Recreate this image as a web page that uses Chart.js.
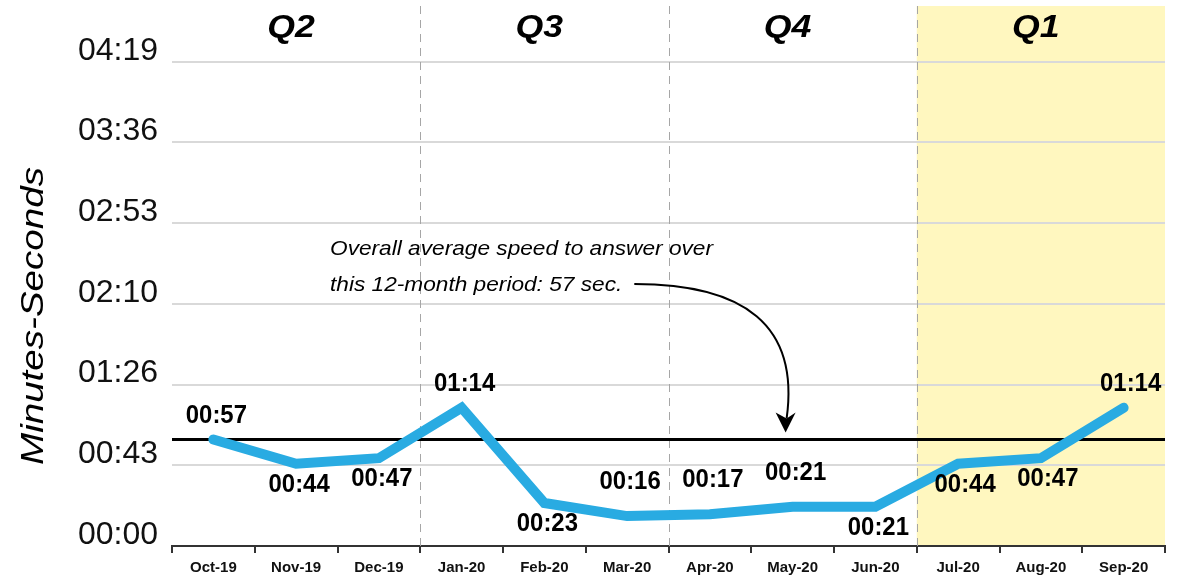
<!DOCTYPE html>
<html>
<head>
<meta charset="utf-8">
<script src="https://cdn.jsdelivr.net/npm/chart.js@4.4.1/dist/chart.umd.min.js"></script>
<style>
html, body { margin: 0; padding: 0; background: #fff; }
#canva1 { display: block; }
</style>
</head>
<body>
<canvas id="canva1" width="1185" height="577"></canvas>
<script>
// dados (segundos)
var meses = ["Oct-19", "Nov-19", "Dec-19", "Jan-20", "Feb-20", "Mar-20", "Apr-20", "May-20", "Jun-20", "Jul-20", "Aug-20", "Sep-20"]
var segundos = [57, 44, 47, 74, 23, 16, 17, 21, 21, 44, 47, 74]
var rotulosPontos = ["00:57", "00:44", "00:47", "01:14", "00:23", "00:16", "00:17", "00:21", "00:21", "00:44", "00:47", "01:14"]
var ladoRotulo = ["cima", "baixo", "baixo", "cima", "baixo", "cima", "cima", "cima", "baixo", "baixo", "baixo", "cima"]
var ticksY = [0, 43.2, 86.4, 129.6, 172.8, 216, 259.2]
var rotulosY = ["00:00", "00:43", "01:26", "02:10", "02:53", "03:36", "04:19"]
var trimestres = ["Q2", "Q3", "Q4", "Q1"]
var mediaGeral = 57
var textoNota = ["Overall average speed to answer over", "this 12-month period: 57 sec."]

var azul = "#29abe2"
var amarelo = "#fff7bf"
var fonte = "'Liberation Sans', Arial, sans-serif"

function meioEntre(x, i) {
    return (x.getPixelForValue(i) + x.getPixelForValue(i + 1)) / 2
}

// escreve o texto esticado na horizontal (o original parece esticado)
function textoEsticado(ctx, texto, x, y, fator) {
    ctx.save()
    ctx.translate(x, y)
    ctx.scale(fator, 1)
    ctx.fillText(texto, 0, 0)
    ctx.restore()
}

var pluginFundo = {
    id: "fundo",
    beforeDraw: function(chart) {
        // fundo amarelo do Q1
        var ctx = chart.ctx
        var area = chart.chartArea
        var x = chart.scales.x
        var inicio = meioEntre(x, 8)
        ctx.save()
        ctx.fillStyle = amarelo
        ctx.fillRect(inicio, area.top, area.right - inicio, area.bottom - area.top)
        ctx.restore()
    },
    beforeDatasetsDraw: function(chart) {
        var ctx = chart.ctx
        var area = chart.chartArea
        var x = chart.scales.x
        var y = chart.scales.y
        ctx.save()
        // linhas tracejadas entre trimestres
        ctx.strokeStyle = "#a6a6a6"
        ctx.lineWidth = 1
        ctx.setLineDash([8, 6])
        for (var q = 1; q < trimestres.length; q++) {
            var xq = Math.round(meioEntre(x, q * 3 - 1)) + 0.5
            ctx.beginPath()
            ctx.moveTo(xq, area.top)
            ctx.lineTo(xq, area.bottom)
            ctx.stroke()
        }
        ctx.setLineDash([])
        // linha da media
        var ym = y.getPixelForValue(mediaGeral)
        ctx.strokeStyle = "#000"
        ctx.lineWidth = 3
        ctx.beginPath()
        ctx.moveTo(area.left, ym)
        ctx.lineTo(area.right, ym)
        ctx.stroke()
        ctx.restore()
    },
    afterDatasetsDraw: function(chart) {
        var ctx = chart.ctx
        var area = chart.chartArea
        var x = chart.scales.x
        var y = chart.scales.y
        ctx.save()
        ctx.fillStyle = "#000"
        ctx.textAlign = "center"
        ctx.textBaseline = "middle"

        // nomes dos trimestres
        ctx.font = "italic bold 31px " + fonte
        for (var q = 0; q < trimestres.length; q++) {
            var xc = x.getPixelForValue(q * 3 + 1) - 5
            textoEsticado(ctx, trimestres[q], xc, area.top + 22, 1.15)
        }

        // rotulos dos pontos
        ctx.font = "bold 26px " + fonte
        for (var i = 0; i < segundos.length; i++) {
            var px = x.getPixelForValue(i)
            var py = y.getPixelForValue(segundos[i])
            var dy = ladoRotulo[i] == "cima" ? -24 : 21
            if (ladoRotulo[i] == "cima" && segundos[i] < 30) dy = -34
            var dx = i >= 9 ? 7 : 3
            textoEsticado(ctx, rotulosPontos[i], px + dx, py + dy, 0.92)
        }

        // titulo do eixo y
        ctx.save()
        ctx.translate(34, 316)
        ctx.rotate(-Math.PI / 2)
        ctx.font = "italic 31px " + fonte
        var kTitulo = 298 / ctx.measureText("Minutes-Seconds").width
        textoEsticado(ctx, "Minutes-Seconds", 0, 0, kTitulo)
        ctx.restore()

        // nota com a seta
        ctx.font = "italic 21px " + fonte
        ctx.textAlign = "left"
        ctx.textBaseline = "alphabetic"
        var kNota = 383 / ctx.measureText(textoNota[0]).width
        textoEsticado(ctx, textoNota[0], 330, 255, kNota)
        textoEsticado(ctx, textoNota[1], 330, 291, kNota)
        var fimTexto = 330 + ctx.measureText(textoNota[1]).width * kNota + 12
        var xSeta = x.getPixelForValue(7) - 7
        var ySeta = y.getPixelForValue(mediaGeral) - 7
        ctx.strokeStyle = "#000"
        ctx.lineWidth = 2
        ctx.beginPath()
        ctx.moveTo(fimTexto, 284)
        ctx.bezierCurveTo(fimTexto + 110, 284, xSeta + 14, 325, xSeta + 1, ySeta - 14)
        ctx.stroke()
        ctx.beginPath()
        ctx.moveTo(xSeta, ySeta)
        ctx.lineTo(xSeta - 10, ySeta - 20)
        ctx.lineTo(xSeta + 1, ySeta - 14)
        ctx.lineTo(xSeta + 10, ySeta - 20)
        ctx.closePath()
        ctx.fill()
        ctx.restore()
    }
}

const config = {
    type: "line",
    data: {
        labels: meses,
        datasets: [{
            label: "Speed to answer",
            data: segundos,
            borderColor: azul,
            backgroundColor: azul,
            borderWidth: 10,
            borderJoinStyle: "miter",
            borderCapStyle: "round",
            pointRadius: 0,
            tension: 0
        }]
    },
    options: {
        responsive: false,
        animation: false,
        layout: { padding: { top: 6, right: 20, left: 0, bottom: 0 } },
        plugins: {
            legend: { display: false },
            tooltip: { enabled: false }
        },
        scales: {
            x: {
                offset: true,
                grid: {
                    offset: true,
                    drawOnChartArea: false,
                    drawTicks: true,
                    tickLength: 7,
                    color: "#333",
                    lineWidth: 2
                },
                border: { display: true, color: "#333", width: 2 },
                ticks: {
                    color: "#111",
                    padding: 6,
                    maxRotation: 0,
                    autoSkip: false,
                    font: { family: fonte, size: 15, weight: "bold" }
                },
                afterFit: function(scale) {
                    scale.height = 31
                    scale.paddingLeft = 0
                    scale.paddingRight = 0
                }
            },
            y: {
                min: 0,
                max: 289,
                grid: { color: "#d9d9d9", lineWidth: 2, drawTicks: false },
                border: { display: false },
                afterBuildTicks: function(scale) {
                    scale.ticks = ticksY.map(function(v) { return { value: v } })
                },
                ticks: {
                    color: "#111",
                    padding: 14,
                    labelOffset: -11,
                    font: { family: fonte, size: 32 },
                    callback: function(valor, indice) { return rotulosY[indice] }
                },
                afterFit: function(scale) {
                    scale.width = 172
                    scale.paddingTop = 0
                    scale.paddingBottom = 0
                }
            }
        }
    },
    plugins: [pluginFundo]
}

const ctx = document.getElementById("canva1").getContext("2d")
if (window.chart) {
    window.chart.destroy()
}
window.chart = new Chart(ctx, config)
</script>
</body>
</html>
